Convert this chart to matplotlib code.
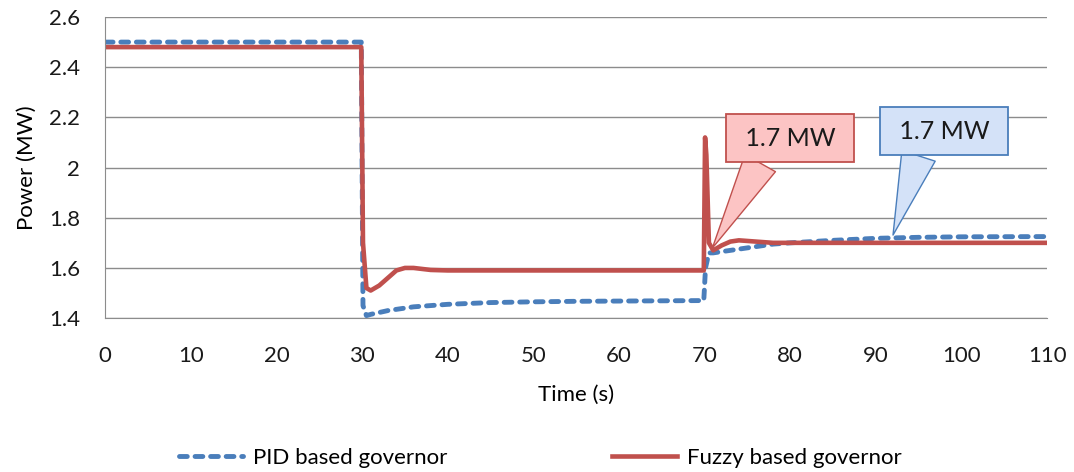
import matplotlib.pyplot as plt

plt.rcParams['font.family'] = ['Lato', 'DejaVu Sans']

# PID based governor
pid_t = [0, 29.9, 30.1, 30.5, 31, 33, 36, 40, 45, 50, 55, 60, 65, 69.9,
         70.1, 70.5, 71, 73, 75, 78, 80, 85, 90, 95, 100, 110]
pid_p = [2.50, 2.50, 1.45, 1.41, 1.415, 1.43, 1.445, 1.455, 1.462, 1.465, 1.467, 1.468, 1.469, 1.47,
         1.60, 1.66, 1.66, 1.67, 1.68, 1.695, 1.70, 1.71, 1.718, 1.722, 1.724, 1.725]

# Fuzzy based governor
fuz_t = [0, 29.9, 30.1, 30.5, 31, 32, 33, 34, 35, 36, 38, 40, 50, 60, 69.9,
         70.05, 70.2, 70.5, 71, 72, 73, 74, 76, 78, 80, 90, 100, 110]
fuz_p = [2.48, 2.48, 1.70, 1.52, 1.51, 1.53, 1.56, 1.59, 1.60, 1.60, 1.592, 1.59, 1.59, 1.59, 1.59,
         2.12, 2.05, 1.70, 1.67, 1.69, 1.705, 1.71, 1.705, 1.70, 1.70, 1.70, 1.70, 1.70]

fig = plt.figure(figsize=(10.74, 4.72), dpi=100)
ax = fig.add_axes([0.098, 0.326, 0.877, 0.638])

ax.plot(pid_t, pid_p, color='#4a7ebb', lw=3.5, ls=(0, (1.6, 1.6)), dash_capstyle='round',
        label='PID based governor')
ax.plot(fuz_t, fuz_p, color='#c0504d', lw=3.3, label='Fuzzy based governor')

ax.set_xlim(0, 110)
ax.set_ylim(1.4, 2.6)
ax.set_xticks(range(0, 111, 10))
ax.set_yticks([1.4, 1.6, 1.8, 2.0, 2.2, 2.4, 2.6])
ax.set_yticklabels(['1.4', '1.6', '1.8', '2', '2.2', '2.4', '2.6'])
ax.tick_params(length=0, labelsize=16, colors='#1a1a1a')
ax.tick_params(axis='x', pad=20)
ax.tick_params(axis='y', pad=18)
ax.grid(axis='y', color='#8c8c8c', lw=1)
ax.set_axisbelow(True)
for s in ['top', 'right']:
    ax.spines[s].set_visible(False)
for s in ['left', 'bottom']:
    ax.spines[s].set_color('#8c8c8c')
ax.set_xlabel('Time (s)', fontsize=16, labelpad=14)
ax.set_ylabel('Power (MW)', fontsize=16, labelpad=9)

# callouts
ax.annotate(' 1.7 MW ', xy=(70.9, 1.679), xytext=(80, 2.116), fontsize=18, ha='center', va='center',
            color='#1a1a1a',
            bbox=dict(boxstyle='square,pad=0.5', fc='#fcc4c4', ec='#c0504d', lw=1.3),
            arrowprops=dict(arrowstyle='wedge,tail_width=1.4', fc='#fcc4c4', ec='#c0504d',
                            lw=1.0, shrinkA=0, shrinkB=0, relpos=(0.28, 0)))
ax.annotate(' 1.7 MW ', xy=(92.0, 1.731), xytext=(98, 2.145), fontsize=18, ha='center', va='center',
            color='#1a1a1a',
            bbox=dict(boxstyle='square,pad=0.5', fc='#d4e2f8', ec='#4a7ebb', lw=1.3),
            arrowprops=dict(arrowstyle='wedge,tail_width=1.4', fc='#d4e2f8', ec='#4a7ebb',
                            lw=1.0, shrinkA=0, shrinkB=0, relpos=(0.29, 0)))

fig.legend(loc='center', bbox_to_anchor=(0.503, 0.03), ncol=2, frameon=False,
           fontsize=16, columnspacing=7.4, handlelength=2.9, handletextpad=0.45)

fig.savefig('out.png')
